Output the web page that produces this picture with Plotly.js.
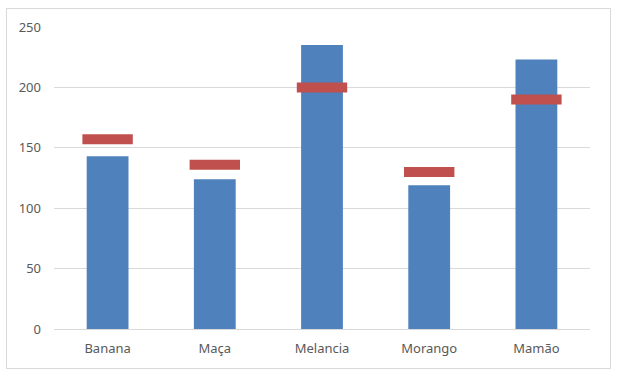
<!DOCTYPE html>
<html>
<head>
<meta charset="utf-8">
<script src="https://cdn.plot.ly/plotly-3.0.1.min.js"></script>
<style>
html,body{margin:0;padding:0;background:#fff;}
#wrap{position:absolute;left:6px;top:8px;width:603px;height:359px;border:1px solid #d9d9d9;}
#chart{width:603px;height:359px;}
</style>
</head>
<body>
<div id="wrap"><div id="chart"></div></div>
<script>
var categories = ["Banana", "Maça", "Melancia", "Morango", "Mamão"];
var actualValues = [143, 124, 235, 119, 223];
var targetValues = [157, 136, 200, 130, 190];
var yTicks = [0, 50, 100, 150, 200, 250];

var traces = [
  {
    type: 'bar',
    x: categories,
    y: actualValues,
    marker: {color: '#4F81BD'},
    hoverinfo: 'x+y'
  },
  {
    type: 'scatter',
    mode: 'markers',
    x: categories,
    y: targetValues,
    marker: {symbol: 'line-ew', size: 36, color: '#C0504D', line: {color: '#C0504D', width: 10}},
    hoverinfo: 'x+y'
  }
];

var layout = {
  width: 603,
  height: 359,
  margin: {l: 47, r: 20, t: 18, b: 39},
  paper_bgcolor: '#ffffff',
  plot_bgcolor: '#ffffff',
  showlegend: false,
  bargap: 0.61,
  font: {family: 'Noto Sans, Open Sans, sans-serif', size: 13, color: '#595959'},
  xaxis: {
    type: 'category',
    automargin: false,
    showgrid: false,
    showline: false,
    zeroline: false,
    ticks: '',
    tickfont: {size: 13, color: '#595959'},
    ticklabelstandoff: 10,
    fixedrange: true
  },
  yaxis: {
    range: [0, 250],
    automargin: false,
    tickvals: yTicks,
    ticktext: yTicks.map(String),
    showgrid: true,
    gridcolor: '#D9D9D9',
    gridwidth: 1,
    zeroline: true,
    zerolinecolor: '#D9D9D9',
    zerolinewidth: 1,
    showline: false,
    ticks: '',
    tickfont: {size: 13, color: '#595959'},
    ticklabelstandoff: 12,
    fixedrange: true
  }
};

Plotly.newPlot('chart', traces, layout, {displayModeBar: false, staticPlot: true});
</script>
</body>
</html>
